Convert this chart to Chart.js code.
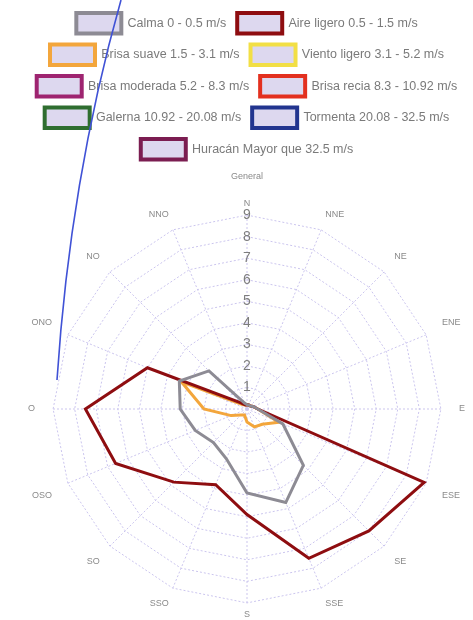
<!DOCTYPE html>
<html>
<head>
<meta charset="utf-8">
<script src="https://cdn.jsdelivr.net/npm/chart.js@4/dist/chart.umd.min.js"></script>
<style>
  html, body { margin: 0; padding: 0; background: #fff; }
  #wrap { width: 473px; height: 620px; position: relative; }
</style>
</head>
<body>
<div id="wrap"><canvas id="rose"></canvas></div>
<script>
// Wind directions (Spanish compass points), clockwise from north
const directions = ['N', 'NNE', 'NE', 'ENE', 'E', 'ESE', 'SE', 'SSE', 'S', 'SSO', 'SO', 'OSO', 'O', 'ONO', 'NO', 'NNO'];

// Frequency per direction for each wind-speed class
const calma         = [0.2, 0.2, 0.2, 0.3, 0.5, 1.8, 3.7, 4.7, 3.9, 2.5, 2.2, 2.6, 3.1, 3.4, 2.5, 0.3];
const aireLigero    = [0.2, 0.2, 0.2, 0.3, 0.5, 8.9, 8.0, 7.5, 4.9, 3.8, 4.8, 6.6, 7.5, 5.0, 0.4, 0.2];
const brisaSuave    = [0.2, 0.2, 0.2, 0.3, 0.5, 1.6, 1.0, 0.9, 0.6, 0.3, 0.4, 0.8, 2.0, 3.3, 0.3, 0.2];
const vientoLigero  = [0, 0, 0, 0, 0, 0, 0, 0, 0, 0, 0, 0, 0, 0, 0, 0];
const brisaModerada = [0, 0, 0, 0, 0, 0, 0, 0, 0, 0, 0, 0, 0, 0, 0, 0];
const brisaRecia    = [0, 0, 0, 0, 0, 0, 0, 0, 0, 0, 0, 0, 0, 0, 0, 0];
const galerna       = [0, 0, 0, 0, 0, 0, 0, 0, 0, 0, 0, 0, 0, 0, 0, 0];
const tormenta      = [0, 0, 0, 0, 0, 0, 0, 0, 0, 0, 0, 0, 0, 0, 0, 0];
const huracan       = [0, 0, 0, 0, 0, 0, 0, 0, 0, 0, 0, 0, 0, 0, 0, 0];

// Radial tick range
const tickMin = 0;
const tickMax = 9;
const tickStep = 1;

const chartTitle = 'General';

const seriesNames = [
  'Calma 0 - 0.5 m/s',
  'Aire ligero 0.5 - 1.5 m/s',
  'Brisa suave 1.5 - 3.1 m/s',
  'Viento ligero 3.1 - 5.2 m/s',
  'Brisa moderada 5.2 - 8.3 m/s',
  'Brisa recia 8.3 - 10.92 m/s',
  'Galerna 10.92 - 20.08 m/s',
  'Tormenta 20.08 - 32.5 m/s',
  'Huracán Mayor que 32.5 m/s'
];
const seriesValues = [calma, aireLigero, brisaSuave, vientoLigero, brisaModerada, brisaRecia, galerna, tormenta, huracan];
const seriesColors = ['#8d8b94', '#8e0d10', '#f3a63c', '#f2df45', '#9e2470', '#e3301f', '#2f6e30', '#22358f', '#7b1d51'];

const sans = '"Liberation Sans", Arial, sans-serif';

const datasets = seriesNames.map((name, i) => ({
  label: name,
  data: seriesValues[i],
  borderColor: seriesColors[i],
  backgroundColor: '#ddd8ef',
  borderWidth: 3,
  fill: false,
  tension: 0,
  pointRadius: 0,
  pointHoverRadius: 0
}));

// Stray pen stroke across the upper-left part of the figure
const strokePlugin = {
  id: 'penStroke',
  afterDraw(chart) {
    const ctx = chart.ctx;
    ctx.save();
    ctx.strokeStyle = '#4052d6';
    ctx.lineWidth = 1.6;
    ctx.beginPath();
    ctx.moveTo(121, 0);
    ctx.quadraticCurveTo(70, 180, 57, 380);
    ctx.stroke();
    ctx.restore();
  }
};

new Chart(document.getElementById('rose'), {
  type: 'radar',
  data: { labels: directions, datasets },
  plugins: [strokePlugin],
  options: {
    responsive: true,
    maintainAspectRatio: false,
    animation: false,
    layout: { padding: { left: 21, right: 0, top: 2, bottom: 0 } },
    plugins: {
      tooltip: { enabled: false },
      legend: {
        position: 'top',
        labels: {
          boxWidth: 45,
          boxHeight: 20.5,
          padding: 11,
          color: '#7a7a7a',
          font: { family: sans, size: 12.5 },
          generateLabels(chart) {
            return chart.data.datasets.map((ds, i) => ({
              text: ds.label,
              fillStyle: '#ddd8ef',
              strokeStyle: ds.borderColor,
              lineWidth: 4,
              fontColor: '#7a7a7a',
              hidden: false,
              datasetIndex: i
            }));
          }
        }
      },
      title: {
        display: true,
        text: chartTitle,
        color: '#8a8a8a',
        weight: 500,
        font: { family: sans, size: 9, weight: 'normal' },
        padding: { top: 2, bottom: 16 }
      }
    },
    scales: {
      r: {
        min: tickMin,
        max: tickMax,
        ticks: {
          stepSize: tickStep,
          color: '#7d7d7d',
          font: { family: sans, size: 14 },
          showLabelBackdrop: false,
          backdropPadding: { top: -6, bottom: -6, left: 0, right: 0 }
        },
        grid: { color: '#cbc5ee', lineWidth: 1, circular: false },
        border: { dash: [2, 2] },
        angleLines: { color: '#cbc5ee', lineWidth: 1, borderDash: [2, 2] },
        pointLabels: {
          color: '#8a8a8a',
          font: { family: sans, size: 9 },
          // side labels sit further out than the top and bottom ones
          padding: (ctx) => 5 + 12 * Math.abs(Math.sin(ctx.index * Math.PI * 2 / directions.length))
        }
      }
    }
  }
});
</script>
</body>
</html>
